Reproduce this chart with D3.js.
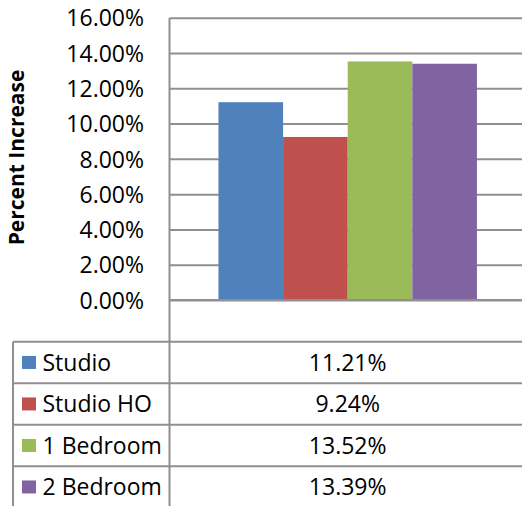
<!DOCTYPE html>
<html>
<head>
<meta charset="utf-8">
<script src="https://cdn.jsdelivr.net/npm/d3@7"></script>
<style>
  html, body { margin: 0; padding: 0; background: #fff; }
  svg { display: block; }
  text { font-family: "Open Sans", "DejaVu Sans", sans-serif; fill: #000; }
</style>
</head>
<body>
<svg id="chart" width="522" height="506"></svg>
<script>
// Rent change by unit type
const categories = [""];
const seriesNames = ["Studio", "Studio HO", "1 Bedroom", "2 Bedroom"];
const seriesValues = [11.21, 9.24, 13.52, 13.39];
const seriesColors = ["#4F81BD", "#C0504D", "#9BBB59", "#8064A2"];
const yTicks = [0, 2, 4, 6, 8, 10, 12, 14, 16];
const yTitle = "Percent Increase";

const svg = d3.select("#chart");

// Plot area
const plotLeft = 170, plotRight = 525.4, plotTop = 17.7, plotBottom = 300;
const tableTop = 341.7, rowH = 41.5, tableLeft = 13;
const gridColor = "#8f8f8f";

const y = d3.scaleLinear().domain([0, 16]).range([plotBottom, plotTop]);
const x0 = d3.scaleBand().domain(categories).range([plotLeft, plotRight])
  .paddingInner(0).paddingOuter(0.1875);
const x1 = d3.scaleBand().domain(seriesNames).range([0, x0.bandwidth()]).padding(0);

// Gridlines and value labels via the axis generator
const yAxis = d3.axisLeft(y).tickValues(yTicks)
  .tickFormat(d => d3.format(".2f")(d) + "%")
  .tickSize(-(522 - plotLeft)).tickPadding(26);

const gAxis = svg.append("g").attr("transform", `translate(${plotLeft},0)`).call(yAxis);
gAxis.select(".domain").remove();
gAxis.selectAll(".tick line").attr("stroke", gridColor).attr("stroke-width", 2);
gAxis.selectAll(".tick text")
  .attr("font-size", 23).attr("font-family", "'Open Sans', sans-serif")
  .attr("fill", "#000").attr("dy", "0.36em");

// Bars
const group = svg.append("g").selectAll("g").data(categories).join("g")
  .attr("transform", d => `translate(${x0(d)},0)`);
group.selectAll("rect")
  .data(() => seriesNames.map((s, i) => ({ name: s, value: seriesValues[i], color: seriesColors[i] })))
  .join("rect")
  .attr("x", d => x1(d.name))
  .attr("width", x1.bandwidth())
  .attr("y", d => y(d.value))
  .attr("height", d => y(0) - y(d.value))
  .attr("fill", d => d.color);

// Zero line above bars
svg.append("line").attr("x1", plotLeft).attr("x2", 522)
  .attr("y1", y(0)).attr("y2", y(0)).attr("stroke", gridColor).attr("stroke-width", 2);

// Vertical axis line running down through the data table
svg.append("line").attr("x1", 169.5).attr("x2", 169.5)
  .attr("y1", plotTop).attr("y2", 506).attr("stroke", gridColor).attr("stroke-width", 2);

// Data table
const table = svg.append("g");
const nRows = seriesNames.length;
for (let i = 0; i <= nRows; i++) {
  table.append("line").attr("x1", tableLeft).attr("x2", 522)
    .attr("y1", tableTop + i * rowH).attr("y2", tableTop + i * rowH)
    .attr("stroke", gridColor).attr("stroke-width", 2);
}
table.append("line").attr("x1", tableLeft).attr("x2", tableLeft)
  .attr("y1", tableTop).attr("y2", tableTop + nRows * rowH)
  .attr("stroke", gridColor).attr("stroke-width", 2);

const rows = table.selectAll("g.row")
  .data(seriesNames.map((s, i) => ({ name: s, value: seriesValues[i], color: seriesColors[i], i })))
  .join("g").attr("class", "row")
  .attr("transform", d => `translate(0,${tableTop + d.i * rowH + rowH / 2})`);

rows.append("rect").attr("x", 22).attr("y", -6.5).attr("width", 14).attr("height", 13)
  .attr("fill", d => d.color);
rows.append("text").attr("x", 42.5).attr("dy", "0.36em")
  .attr("font-size", 23).text(d => d.name);
rows.append("text").attr("x", x0("") + x0.bandwidth() / 2).attr("dy", "0.36em")
  .attr("text-anchor", "middle").attr("font-size", 23)
  .text(d => d3.format(".2f")(d.value) + "%");

// Axis title
svg.append("text")
  .attr("transform", `translate(24,157.5) rotate(-90)`)
  .attr("text-anchor", "middle").attr("font-weight", "bold").attr("font-size", 21)
  .text(yTitle);
</script>
</body>
</html>
